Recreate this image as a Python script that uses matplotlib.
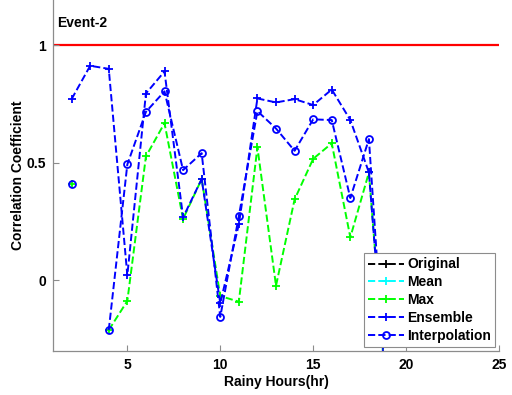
import numpy as np
import matplotlib
matplotlib.use("Agg")
import matplotlib.pyplot as plt

nan = np.nan

# Rainy hours (x axis)
hours = [2, 3, 4, 5, 6, 7, 8, 9, 10, 11, 12, 13, 14, 15, 16, 17, 18, 19]

# Correlation coefficients per method
original = [nan] * 18
mean = [nan] * 18
max_vals = [0.41, nan, -0.213, -0.089, 0.526, 0.668, 0.26, 0.43, -0.068, -0.092,
            0.565, -0.024, 0.343, 0.516, 0.582, 0.182, 0.458, -0.55]
ensemble = [0.77, 0.912, 0.899, 0.02, 0.794, 0.888, 0.267, 0.43, -0.099, 0.237,
            0.773, 0.756, 0.77, 0.745, 0.811, 0.681, 0.458, -0.55]
interpolation = [0.41, nan, -0.213, 0.492, 0.716, 0.803, 0.468, 0.54, -0.157, 0.272,
                 0.719, 0.645, 0.55, 0.684, 0.681, 0.349, 0.60, -0.58]

series_labels = ["Original", "Mean", "Max", "Ensemble", "Interpolation"]
x_ticks = [5, 10, 15, 20, 25]
y_ticks = [0, 0.5, 1]
y_tick_labels = ["0", "0.5", "1"]
reference_level = 1.0

plt.rcParams['font.family'] = ['Liberation Sans', 'DejaVu Sans']
plt.rcParams['font.weight'] = 'bold'
FS = 10

fig = plt.figure(figsize=(5.12, 3.95), dpi=100)
ax = fig.add_axes([53 / 512, 44 / 395, 446 / 512, 351 / 395])

ax.axhline(reference_level, color='#ff0000', lw=1.6, zorder=1)

style = dict(ls='--', lw=1.4, mew=1.3)
handles = []
handles += ax.plot(hours, original, color='black', marker='+', ms=6, **style)
handles += ax.plot(hours, mean, color='cyan', marker='+', ms=6, **style)
handles += ax.plot(hours, max_vals, color='#00ff00', marker='+', ms=6, **style)
handles += ax.plot(hours, ensemble, color='#0000ff', marker='+', ms=6, **style)
handles += ax.plot(hours, interpolation, color='#0000ff', marker='o', ms=5,
                   mfc='none', **style)

ax.set_xlim(1, 25)
ax.set_ylim(-0.302, 1.192)
ax.set_xticks(x_ticks)
ax.set_yticks(y_ticks)
ax.set_yticklabels(y_tick_labels)

for side in ('top', 'right'):
    ax.spines[side].set_visible(False)
for side in ('left', 'bottom'):
    ax.spines[side].set_color('#8c8c8c')
    ax.spines[side].set_linewidth(0.9)
ax.tick_params(direction='in', length=4, width=0.8, color='#8c8c8c',
               labelsize=FS, pad=5)
for lbl in ax.get_xticklabels() + ax.get_yticklabels():
    lbl.set_fontweight('bold')

ax.set_xlabel("Rainy Hours(hr)", fontsize=FS, fontweight='bold', labelpad=2)
ax.set_ylabel("Correlation Coefficient", fontsize=FS, fontweight='bold', labelpad=1)

ax.text(1.2, 1.094, "Event-2", fontsize=FS, fontweight='bold', va='center', ha='left')

leg = ax.legend(handles, series_labels, loc='lower right', bbox_to_anchor=(0.991, 0.011),
                borderaxespad=0, fancybox=False, framealpha=1, edgecolor='#8c8c8c',
                prop={'size': FS, 'weight': 'bold'}, handlelength=2.6,
                handletextpad=0.2, labelspacing=0.28, borderpad=0.3)
leg.get_frame().set_linewidth(0.8)

fig.savefig("out.png", dpi=100)
